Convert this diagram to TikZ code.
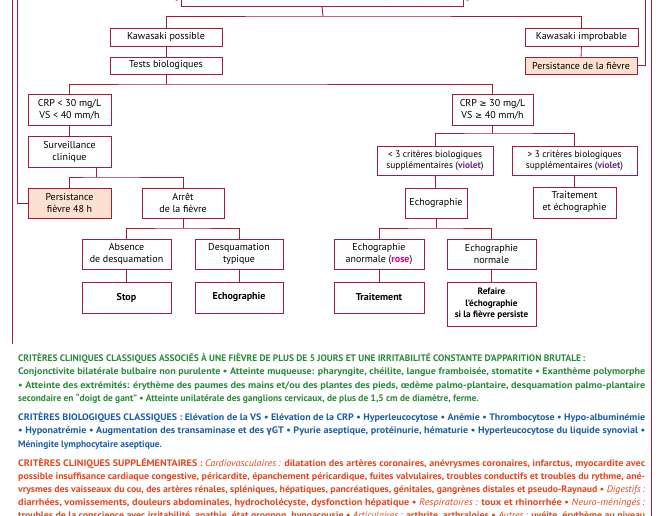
\documentclass[tikz,border=0pt]{standalone}
\usepackage{fontspec}
\usepackage{graphicx}
\setmainfont{PT Sans}
\newfontfamily\symf{DejaVu Sans}
\newfontfamily\grkf{Fira Sans}
\usetikzlibrary{arrows.meta}
\definecolor{boxc}{HTML}{A01E3C}
\definecolor{peach}{HTML}{FCE1D0}
\definecolor{arrc}{HTML}{E2231A}
\definecolor{grn}{HTML}{2A8A3C}
\definecolor{blu}{HTML}{1B5EA6}
\definecolor{redo}{HTML}{E8461E}
\definecolor{orng}{HTML}{F08A00}
\definecolor{viol}{HTML}{6B2A8C}
\definecolor{rosec}{HTML}{E6007E}
\newcommand\jl[1]{\resizebox{627pt}{\height}{#1}}
\newcommand\capsf{\fontsize{9.4}{11}\selectfont}
\tikzset{
  box/.style={draw=boxc, line width=0.9pt, fill=white, inner sep=1pt, align=center,
    font=\fontsize{10}{12}\selectfont, text=black},
  sbox/.style={box, font=\fontsize{9.4}{11.5}\selectfont},
  pbox/.style={box, fill=peach},
  conn/.style={draw=boxc, line width=0.9pt},
  fb/.style={draw=boxc, line width=0.9pt, -{Stealth[length=5pt,width=4pt,color=arrc]}},
  frame/.style={draw=boxc, line width=0.9pt},
  txt/.style={inner sep=0pt, anchor=base west, font=\fontsize{9.4}{11}\selectfont\bfseries}
}
\begin{document}
\begin{tikzpicture}[x=1pt,y=-1pt]
\useasboundingbox (0,0) rectangle (666,516);
\clip (0,0) rectangle (666,516);
\fill[white] (0,0) rectangle (666,516);
% outer frame lines
\coordinate (fl1) at (12,-5);
\coordinate (fl2) at (12,344);
\coordinate (fr1) at (651,-5);
\coordinate (fr2) at (651,520);
\draw[frame] (fl1) -- (fl2);
\draw[frame] (fr1) -- (fr2);
% top box (mostly outside)
\node[box, minimum width=282pt, minimum height=36pt] (top) at (322,-12) {};
\node[inner sep=0pt, anchor=base east, font=\fontsize{10}{12}\selectfont] (toptxt) at (452,-1)
  {Critères cliniques supplémentaires pour appuyer le diagnostic (\textcolor{orng}{\bfseries orange})};
% boxes
\node[box, minimum width=112pt, minimum height=18pt] (kp) at (166,37) {Kawasaki possible};
\node[box, minimum width=112pt, minimum height=17pt] (tb) at (166,65.5) {Tests biologiques};
\node[box, minimum width=113pt, minimum height=18pt] (ki) at (581.5,37) {Kawasaki improbable};
\node[pbox, minimum width=112pt, minimum height=17pt] (pf) at (581,65.5) {Persistance de la fièvre};
\node[box, minimum width=83pt, minimum height=31pt] (crpl) at (69.5,109.5) {CRP < 30 mg/L\\VS < 40 mm/h};
\node[box, minimum width=83pt, minimum height=31pt] (surv) at (69.5,151.5) {Surveillance\\clinique};
\node[pbox, minimum width=83pt, minimum height=30pt] (p48) at (69.5,203) {Persistance\\fièvre 48 h};
\node[box, minimum width=82pt, minimum height=30pt] (arret) at (183,203) {Arrêt\\de la fièvre};
\node[box, minimum width=81pt, minimum height=31pt] (crpg) at (492.5,109.5) {CRP {\symf\fontsize{8.5}{10}\selectfont ≥} 30 mg/L\\VS {\symf\fontsize{8.5}{10}\selectfont ≥} 40 mm/h};
\node[sbox, minimum width=116pt, minimum height=29pt] (lt3) at (435,160.5) {< 3 critères biologiques\\supplémentaires (\textcolor{viol}{\bfseries violet})};
\node[sbox, minimum width=125pt, minimum height=29pt] (gt3) at (574.5,160.5) {> 3 critères biologiques\\supplémentaires (\textcolor{viol}{\bfseries violet})};
\node[box, minimum width=62pt, minimum height=30pt] (echo1) at (436,203) {Echographie};
\node[box, minimum width=83pt, minimum height=31pt] (trech) at (574.5,202.5) {Traitement\\et échographie};
\node[box, minimum width=89pt, minimum height=30pt] (absd) at (126.5,254) {Absence\\de desquamation};
\node[box, minimum width=88pt, minimum height=30pt] (desq) at (239,254) {Desquamation\\typique};
\node[box, minimum width=89pt, minimum height=31pt] (stop) at (126.5,297.5) {\bfseries Stop};
\node[box, minimum width=88pt, minimum height=31pt] (echo2) at (239,297.5) {\bfseries Echographie};
\node[box, minimum width=90pt, minimum height=30pt] (ean) at (379,254) {Echographie\\anormale (\textcolor{rosec}{\bfseries rose})};
\node[box, minimum width=89pt, minimum height=30pt] (enorm) at (491.5,254) {Echographie\\normale};
\node[box, minimum width=90pt, minimum height=31pt] (trait) at (379,297.5) {\bfseries Traitement};
\node[box, font=\fontsize{9.2}{11.5}\selectfont\bfseries, minimum width=89pt, minimum height=44pt] (refaire) at (491.5,304) {Refaire\\l'échographie\\si la fièvre persiste};
% junction coordinates
\coordinate (j0) at (323,16);
\coordinate (j1) at (166,84);
\coordinate (j2) at (96,177);
\coordinate (j3) at (492.5,133);
\coordinate (j4) at (183,228);
\coordinate (j5) at (436,228);
\coordinate (fbl) at (17,-1);
\coordinate (fbr) at (645,-1);
% connectors
\draw[conn] (top.south) -- (j0);
\draw[conn] (kp.north) |- (j0) -| (ki.north);
\draw[conn] (kp) -- (tb);
\draw[conn] (ki) -- (pf);
\draw[conn] (tb.south) -- (j1);
\draw[conn] (crpl.north) |- (j1) -| (crpg.north);
\draw[conn] (crpl) -- (surv);
\draw[conn] (surv.south -| j2) -- (j2);
\draw[conn] (p48.north) |- (j2) -| (arret.north);
\draw[conn] (crpg.south) -- (j3);
\draw[conn] (lt3.north) |- (j3) -| (gt3.north);
\draw[conn] (lt3) -- (echo1);
\draw[conn] (gt3) -- (trech);
\draw[conn] (arret.south) -- (j4);
\draw[conn] (absd.north) |- (j4) -| (desq.north);
\draw[conn] (absd) -- (stop);
\draw[conn] (desq) -- (echo2);
\draw[conn] (echo1.south) -- (j5);
\draw[conn] (ean.north) |- (j5) -| (enorm.north);
\draw[conn] (ean) -- (trait);
\draw[conn] (enorm) -- (refaire);
% feedback loops
\draw[fb] (p48.west) -| (fbl) -- (fbl -| top.west);
\draw[fb] (pf.east) -| (fbr) -- (fbr -| top.east);
% text section
\node[txt, text=grn] (t1) at (18,361) {{\capsf CRITÈRES CLINIQUES CLASSIQUES ASSOCIÉS À UNE FIÈVRE DE PLUS DE 5 JOURS ET UNE IRRITABILITÉ CONSTANTE D’APPARITION BRUTALE\,:}};
\node[txt, text=grn] (t2) at (18,374.5) {\jl{Conjonctivite bilatérale bulbaire non purulente • Atteinte muqueuse: pharyngite, chéilite, langue framboisée, stomatite • Exanthème polymorphe}};
\node[txt, text=grn] (t3) at (18,388) {\jl{• Atteinte des extrémités: érythème des paumes des mains et/ou des plantes des pieds, œdème palmo-plantaire, desquamation palmo-plantaire}};
\node[txt, text=grn] (t4) at (18,401.5) {secondaire en “doigt de gant” • Atteinte unilatérale des ganglions cervicaux, de plus de 1,5 cm de diamètre, ferme.};
\node[txt, text=blu] (t5) at (18,420) {\jl{{\capsf CRITÈRES BIOLOGIQUES CLASSIQUES} : Elévation de la VS • Elévation de la CRP • Hyperleucocytose • Anémie • Thrombocytose • Hypo-albuminémie}};
\node[txt, text=blu] (t6) at (18,433.5) {\jl{• Hyponatrémie • Augmentation des transaminase et des {\grkf\bfseries γ}GT • Pyurie aseptique, protéinurie, hématurie • Hyperleucocytose du liquide synovial •}};
\node[txt, text=blu] (t7) at (18,447) {Méningite lymphocytaire aseptique.};
\node[txt, text=redo] (t8) at (18,466.5) {\jl{{\capsf CRITÈRES CLINIQUES SUPPLÉMENTAIRES} : \textit{\mdseries Cardiovasculaires\,:} dilatation des artères coronaires, anévrysmes coronaires, infarctus, myocardite avec}};
\node[txt, text=redo] (t9) at (18,479.5) {\jl{possible insuffisance cardiaque congestive, péricardite, épanchement péricardique, fuites valvulaires, troubles conductifs et troubles du rythme, ané-}};
\node[txt, text=redo] (t10) at (18,492.5) {\jl{vrysmes des vaisseaux du cou, des artères rénales, spléniques, hépatiques, pancréatiques, génitales, gangrènes distales et pseudo-Raynaud • \textit{\mdseries Digestifs\,:}}};
\node[txt, text=redo] (t11) at (18,505.5) {\jl{diarrhées, vomissements, douleurs abdominales, hydrocholécyste, dysfonction hépatique • \textit{\mdseries Respiratoires\,:} toux et rhinorrhée • \textit{\mdseries Neuro-méningés\,:}}};
\node[txt, text=redo] (t12) at (18,518.5) {\jl{troubles de la conscience avec irritabilité, apathie, état grognon, hypoacousie • \textit{\mdseries Articulaires\,:} arthrite, arthralgies • \textit{\mdseries Autres\,:} uvéite, érythème au niveau}};
\end{tikzpicture}
\end{document}
